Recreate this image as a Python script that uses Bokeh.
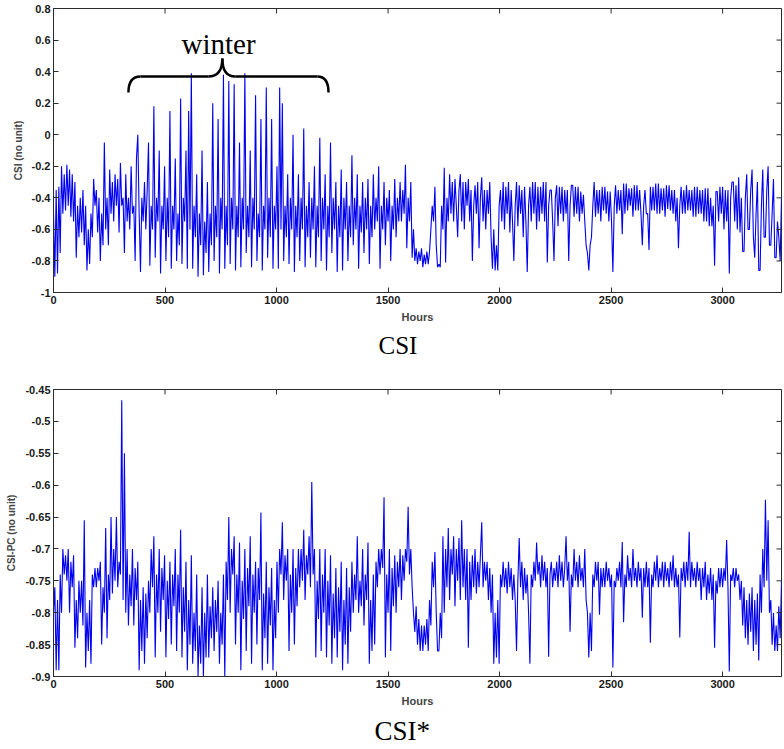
import math
from bokeh.plotting import figure
from bokeh.models import FixedTicker, Range1d, Title
from bokeh.layouts import column
from bokeh.embed import file_html
from bokeh.resources import INLINE
from bokeh.core.properties import value

# ---------------- data (6-hour sampling) ----------------
step_hours = 6

csi = [
    -0.50, -0.90, -0.35, -0.88, -0.33, -0.75, -0.20, -0.50, -0.25, -0.48, -0.19, -0.45, -0.22, -0.52, -0.25, -0.55,
    -0.30, -0.78, -0.45, -0.65, -0.40, -0.62, -0.35, -0.70, -0.45, -0.86, -0.60, -0.82, -0.50, -0.65, -0.28, -0.45,
    -0.35, -0.62, -0.40, -0.80, -0.50, -0.70, -0.05, -0.60, -0.40, -0.70, -0.22, -0.50, -0.30, -0.55, -0.25, -0.45,
    -0.28, -0.62, -0.18, -0.45, -0.40, -0.75, -0.25, -0.55, -0.40, -0.60, -0.20, -0.50, -0.45, -0.80, -0.15, 0.00,
    -0.50, -0.87, -0.40, -0.55, -0.30, -0.60, -0.35, -0.05, -0.83, -0.45, -0.60, 0.18, -0.78, -0.40, -0.55, -0.10,
    -0.88, -0.45, -0.60, -0.20, -0.80, -0.40, -0.65, 0.15, -0.85, -0.45, -0.60, -0.15, -0.80, -0.50, -0.70, 0.23,
    -0.82, -0.40, -0.55, -0.10, -0.85, 0.15, -0.60, 0.39, -0.85, -0.45, -0.65, -0.25, -0.90, -0.50, -0.70, -0.10,
    -0.89, -0.55, -0.75, -0.30, -0.87, -0.50, -0.70, 0.20, -0.80, -0.45, -0.65, 0.10, -0.88, -0.40, -0.60, 0.38,
    -0.85, -0.45, -0.70, 0.34, -0.82, -0.40, -0.60, 0.32, -0.86, -0.45, -0.65, -0.05, -0.84, -0.40, -0.60, 0.39,
    -0.75, -0.45, -0.65, -0.10, -0.84, -0.40, -0.60, 0.25, -0.80, -0.50, -0.65, 0.10, -0.86, -0.45, -0.60, 0.30,
    -0.78, -0.40, -0.65, 0.10, -0.85, -0.45, -0.60, -0.20, -0.85, 0.30, -0.60, 0.20, -0.80, -0.45, -0.65, -0.25,
    -0.82, -0.40, -0.60, 0.00, -0.87, -0.45, -0.65, -0.25, -0.80, -0.40, -0.60, 0.04, -0.84, -0.45, -0.65, -0.30,
    -0.78, -0.40, -0.60, -0.20, -0.84, -0.45, -0.65, -0.02, -0.80, -0.40, -0.60, -0.25, -0.86, -0.45, -0.65, -0.05,
    -0.75, -0.40, -0.60, -0.30, -0.87, -0.45, -0.65, -0.22, -0.86, -0.40, -0.60, -0.30, -0.80, -0.45, -0.65, -0.13,
    -0.70, -0.40, -0.60, -0.25, -0.85, -0.45, -0.62, -0.30, -0.75, -0.40, -0.60, -0.28, -0.82, -0.45, -0.65, -0.25,
    -0.60, -0.40, -0.55, -0.20, -0.85, -0.45, -0.60, -0.30, -0.70, -0.40, -0.55, -0.35, -0.80, -0.45, -0.60, -0.28,
    -0.65, -0.40, -0.55, -0.30, -0.55, -0.35, -0.50, -0.19, -0.72, -0.40, -0.55, -0.30, -0.78, -0.60, -0.80, -0.72,
    -0.82, -0.74, -0.80, -0.72, -0.84, -0.76, -0.82, -0.74, -0.82, -0.74, -0.60, -0.45, -0.55, -0.33, -0.70, -0.84,
    -0.82, -0.84, -0.45, -0.60, -0.21, -0.81, -0.40, -0.55, -0.25, -0.50, -0.30, -0.55, -0.28, -0.45, -0.65, -0.35,
    -0.25, -0.55, -0.30, -0.60, -0.30, -0.45, -0.28, -0.55, -0.35, -0.80, -0.45, -0.32, -0.50, -0.30, -0.72, -0.40,
    -0.27, -0.55, -0.35, -0.60, -0.35, -0.50, -0.30, -0.65, -0.85, -0.60, -0.86, -0.70, -0.86, -0.45, -0.35, -0.55,
    -0.30, -0.60, -0.33, -0.50, -0.30, -0.62, -0.35, -0.55, -0.80, -0.45, -0.30, -0.58, -0.32, -0.50, -0.35, -0.65,
    -0.33, -0.55, -0.87, -0.45, -0.33, -0.55, -0.30, -0.50, -0.30, -0.60, -0.33, -0.55, -0.33, -0.50, -0.30, -0.55,
    -0.30, -0.81, -0.45, -0.35, -0.35, -0.55, -0.80, -0.40, -0.32, -0.58, -0.33, -0.50, -0.33, -0.55, -0.35, -0.50,
    -0.35, -0.80, -0.45, -0.32, -0.32, -0.52, -0.33, -0.50, -0.33, -0.55, -0.36, -0.50, -0.38, -0.55, -0.70, -0.75,
    -0.86, -0.70, -0.65, -0.45, -0.30, -0.52, -0.35, -0.50, -0.35, -0.55, -0.33, -0.48, -0.33, -0.50, -0.36, -0.55,
    -0.36, -0.55, -0.87, -0.45, -0.32, -0.50, -0.35, -0.48, -0.35, -0.63, -0.31, -0.50, -0.31, -0.48, -0.34, -0.45,
    -0.34, -0.52, -0.32, -0.48, -0.32, -0.48, -0.35, -0.50, -0.70, -0.45, -0.35, -0.50, -0.50, -0.73, -0.33, -0.48,
    -0.33, -0.48, -0.31, -0.50, -0.31, -0.50, -0.34, -0.48, -0.34, -0.52, -0.32, -0.47, -0.32, -0.48, -0.35, -0.50,
    -0.35, -0.55, -0.40, -0.72, -0.45, -0.33, -0.50, -0.35, -0.50, -0.32, -0.48, -0.35, -0.48, -0.35, -0.52, -0.33,
    -0.52, -0.33, -0.50, -0.35, -0.50, -0.35, -0.55, -0.34, -0.55, -0.34, -0.58, -0.40, -0.58, -0.45, -0.83, -0.36,
    -0.36, -0.55, -0.33, -0.50, -0.33, -0.60, -0.35, -0.55, -0.35, -0.88, -0.40, -0.30, -0.30, -0.55, -0.32, -0.60,
    -0.27, -0.62, -0.40, -0.74, -0.74, -0.40, -0.25, -0.60, -0.60, -0.35, -0.22, -0.65, -0.78, -0.50, -0.30, -0.86,
    -0.86, -0.45, -0.22, -0.65, -0.65, -0.35, -0.20, -0.70, -0.70, -0.50, -0.28, -0.78, -0.78, -0.55, -0.65, -0.80,
    -0.40,
]

csi_pc = [
    -0.80, -0.76, -0.89, -0.78, -0.89, -0.74, -0.80, -0.70, -0.74, -0.71, -0.75, -0.70, -0.80, -0.72, -0.76, -0.71,
    -0.855, -0.78, -0.84, -0.75, -0.80, -0.75, -0.82, -0.655, -0.886, -0.80, -0.86, -0.78, -0.88, -0.74, -0.76, -0.73,
    -0.76, -0.73, -0.75, -0.72, -0.85, -0.76, -0.80, -0.667, -0.84, -0.74, -0.78, -0.65, -0.77, -0.70, -0.75, -0.65,
    -0.76, -0.72, -0.74, -0.467, -0.78, -0.55, -0.80, -0.70, -0.82, -0.74, -0.79, -0.70, -0.82, -0.73, -0.78, -0.72,
    -0.89, -0.78, -0.86, -0.76, -0.88, -0.77, -0.84, -0.75, -0.80, -0.70, -0.76, -0.68, -0.87, -0.74, -0.80, -0.70,
    -0.83, -0.73, -0.78, -0.71, -0.87, -0.75, -0.81, -0.72, -0.85, -0.74, -0.79, -0.70, -0.86, -0.74, -0.80, -0.67,
    -0.87, -0.76, -0.83, -0.72, -0.89, -0.78, -0.85, -0.71, -0.88, -0.80, -0.86, -0.74, -0.90, -0.82, -0.88, -0.76,
    -0.90, -0.80, -0.87, -0.74, -0.87, -0.79, -0.84, -0.76, -0.86, -0.78, -0.83, -0.75, -0.88, -0.80, -0.85, -0.74,
    -0.90, -0.72, -0.78, -0.65, -0.80, -0.70, -0.74, -0.68, -0.85, -0.74, -0.80, -0.69, -0.89, -0.75, -0.81, -0.70,
    -0.86, -0.73, -0.79, -0.68, -0.88, -0.74, -0.80, -0.72, -0.85, -0.73, -0.78, -0.643, -0.89, -0.77, -0.84, -0.72,
    -0.88, -0.76, -0.82, -0.73, -0.89, -0.78, -0.84, -0.72, -0.80, -0.70, -0.74, -0.658, -0.78, -0.71, -0.75, -0.70,
    -0.86, -0.74, -0.80, -0.70, -0.85, -0.73, -0.79, -0.70, -0.76, -0.70, -0.75, -0.67, -0.78, -0.71, -0.74, -0.68,
    -0.76, -0.595, -0.74, -0.70, -0.87, -0.75, -0.81, -0.70, -0.86, -0.74, -0.80, -0.70, -0.87, -0.75, -0.82, -0.71,
    -0.88, -0.77, -0.84, -0.73, -0.87, -0.76, -0.83, -0.72, -0.89, -0.78, -0.85, -0.73, -0.88, -0.76, -0.83, -0.72,
    -0.80, -0.74, -0.78, -0.68, -0.80, -0.75, -0.79, -0.70, -0.82, -0.74, -0.78, -0.69, -0.88, -0.78, -0.86, -0.74,
    -0.85, -0.72, -0.76, -0.70, -0.74, -0.70, -0.73, -0.619, -0.87, -0.74, -0.80, -0.70, -0.86, -0.73, -0.79, -0.71,
    -0.80, -0.72, -0.76, -0.70, -0.78, -0.71, -0.75, -0.70, -0.72, -0.634, -0.74, -0.70, -0.76, -0.80, -0.83, -0.79,
    -0.85, -0.81, -0.86, -0.82, -0.86, -0.82, -0.85, -0.81, -0.86, -0.78, -0.82, -0.72, -0.76, -0.705, -0.80, -0.86,
    -0.86, -0.80, -0.84, -0.68, -0.80, -0.70, -0.76, -0.667, -0.78, -0.70, -0.74, -0.68, -0.79, -0.70, -0.75, -0.683,
    -0.78, -0.655, -0.76, -0.70, -0.78, -0.70, -0.855, -0.72, -0.78, -0.71, -0.76, -0.70, -0.77, -0.72, -0.76, -0.71,
    -0.658, -0.76, -0.72, -0.75, -0.72, -0.78, -0.73, -0.80, -0.74, -0.88, -0.80, -0.87, -0.78, -0.88, -0.74, -0.76,
    -0.72, -0.76, -0.73, -0.77, -0.72, -0.76, -0.73, -0.78, -0.74, -0.78, -0.86, -0.75, -0.683, -0.76, -0.72, -0.78,
    -0.73, -0.77, -0.74, -0.80, -0.88, -0.74, -0.76, -0.72, -0.75, -0.69, -0.74, -0.72, -0.76, -0.71, -0.75, -0.72,
    -0.76, -0.73, -0.869, -0.74, -0.72, -0.76, -0.73, -0.75, -0.72, -0.76, -0.71, -0.75, -0.72, -0.76, -0.73, -0.68,
    -0.75, -0.72, -0.83, -0.74, -0.76, -0.70, -0.75, -0.72, -0.76, -0.71, -0.75, -0.73, -0.76, -0.70, -0.78, -0.80,
    -0.87, -0.80, -0.86, -0.74, -0.76, -0.72, -0.75, -0.72, -0.803, -0.73, -0.76, -0.73, -0.76, -0.72, -0.75, -0.73,
    -0.76, -0.74, -0.886, -0.75, -0.76, -0.73, -0.75, -0.72, -0.76, -0.689, -0.815, -0.74, -0.76, -0.71, -0.75, -0.73,
    -0.76, -0.70, -0.75, -0.73, -0.76, -0.72, -0.75, -0.73, -0.808, -0.73, -0.76, -0.72, -0.76, -0.73, -0.847, -0.74,
    -0.76, -0.72, -0.75, -0.71, -0.76, -0.73, -0.75, -0.72, -0.76, -0.72, -0.75, -0.73, -0.76, -0.72, -0.75, -0.71,
    -0.76, -0.73, -0.76, -0.74, -0.839, -0.73, -0.75, -0.72, -0.76, -0.72, -0.75, -0.673, -0.76, -0.72, -0.75, -0.73,
    -0.76, -0.72, -0.75, -0.73, -0.78, -0.73, -0.76, -0.72, -0.78, -0.74, -0.77, -0.73, -0.78, -0.74, -0.855, -0.75,
    -0.77, -0.73, -0.76, -0.73, -0.76, -0.73, -0.75, -0.686, -0.76, -0.892, -0.74, -0.75, -0.73, -0.76, -0.73, -0.75,
    -0.74, -0.78, -0.75, -0.82, -0.76, -0.84, -0.78, -0.85, -0.77, -0.83, -0.76, -0.86, -0.78, -0.85, -0.77, -0.875,
    -0.74, -0.80, -0.70, -0.76, -0.623, -0.75, -0.655, -0.80, -0.78, -0.85, -0.80, -0.86, -0.82, -0.86, -0.79, -0.84,
    -0.75,
]

hours_csi = [i * step_hours for i in range(len(csi))]
hours_pc = [i * step_hours for i in range(len(csi_pc))]

x_max = 3264
x_ticks = [0, 500, 1000, 1500, 2000, 2500, 3000]
x_tick_labels = ["0", "500", "1000", "1500", "2000", "2500", "3000"]
csi_ticks = [-1, -0.8, -0.6, -0.4, -0.2, 0, 0.2, 0.4, 0.6, 0.8]
csi_tick_labels = ["-1", "-0.8", "-0.6", "-0.4", "-0.2", "0", "0.2", "0.4", "0.6", "0.8"]
pc_ticks = [-0.9, -0.85, -0.8, -0.75, -0.7, -0.65, -0.6, -0.55, -0.5, -0.45]
pc_tick_labels = ["-0.9", "-0.85", "-0.8", "-0.75", "-0.7", "-0.65", "-0.6", "-0.55", "-0.5", "-0.45"]

# "winter" annotation (brace in data units: hours, CSI value)
winter_label = "winter"
winter_x, winter_y = 740, 0.575
brace_x0 = [336, 390, 694, 757, 815, 1183]
brace_y0 = [0.268, 0.369, 0.369, 0.483, 0.369, 0.369]
brace_x1 = [390, 694, 757, 815, 1183, 1233]
brace_y1 = [0.369, 0.369, 0.483, 0.369, 0.369, 0.268]
brace_cx = [336, 542, 757, 757, 999, 1233]
brace_cy = [0.369, 0.369, 0.369, 0.369, 0.369, 0.369]

LINE_COLOR = "#0000f0"
AXIS_COLOR = "#2b2b2b"
SANS = "Liberation Sans"
SERIF = "Liberation Serif"


def style_axis(ax):
    ax.axis_line_color = AXIS_COLOR
    ax.major_tick_line_color = AXIS_COLOR
    ax.major_tick_in = 5
    ax.major_tick_out = 0
    ax.minor_tick_line_color = None
    ax.major_label_text_font = SANS
    ax.major_label_text_font_style = "bold"
    ax.major_label_text_font_size = "11px"
    ax.major_label_text_color = "#1a1a1a"
    ax.major_label_standoff = 3


def make_panel(xs, series, yticks, ylabels, ylo, yhi, ylabel, caption, caption_offset,
               caption_size, height, b_top, b_bottom):
    p = figure(width=784, height=height, output_backend="svg", toolbar_location=None,
               x_range=Range1d(0, x_max), y_range=Range1d(ylo, yhi), title=None,
               min_border_left=53, min_border_right=3,
               min_border_top=b_top, min_border_bottom=b_bottom)
    p.xgrid.visible = False
    p.ygrid.visible = False
    p.outline_line_color = AXIS_COLOR
    p.background_fill_color = "white"
    p.border_fill_color = "white"

    p.line(xs, series, line_color=LINE_COLOR, line_width=1.1)

    xa = p.xaxis[0]
    xa.ticker = FixedTicker(ticks=x_ticks)
    xa.major_label_overrides = dict(zip(x_ticks, x_tick_labels))
    style_axis(xa)
    xa.axis_label = "Hours"
    xa.axis_label_text_font = SANS
    xa.axis_label_text_font_style = "bold"
    xa.axis_label_text_font_size = "11px"
    xa.axis_label_standoff = 4

    ya = p.yaxis[0]
    ya.ticker = FixedTicker(ticks=yticks)
    ya.major_label_overrides = dict(zip(yticks, ylabels))
    style_axis(ya)
    ya.axis_label = ylabel
    ya.axis_label_text_font = SANS
    ya.axis_label_text_font_style = "bold"
    ya.axis_label_text_font_size = "10px"
    ya.axis_label_standoff = 5

    # inward ticks on the top and right edges of the box (no labels)
    p.ray(x=x_ticks[1:], y=[yhi] * (len(x_ticks) - 1), length=5, length_units="screen",
          angle=-math.pi / 2, line_color=AXIS_COLOR, line_width=1)
    p.ray(x=[x_max] * len(yticks), y=yticks, length=5, length_units="screen",
          angle=math.pi, line_color=AXIS_COLOR, line_width=1)

    t = Title(text=caption, align="left", offset=caption_offset,
              text_font=SERIF, text_font_size=caption_size,
              text_font_style="normal", text_color="black", standoff=8)
    p.add_layout(t, "below")
    return p


p1 = make_panel(hours_csi, csi, csi_ticks, csi_tick_labels, -1, 0.8, "CSI (no unit)", "CSI", 325,
                "25px", 365, 8, 73)
p1.quadratic(x0=brace_x0, y0=brace_y0, x1=brace_x1, y1=brace_y1, cx=brace_cx, cy=brace_cy,
             line_color="black", line_width=2.5)
p1.text(x=[winter_x], y=[winter_y], text=[winter_label], text_font=value(SERIF),
        text_font_size="29px", text_align="center", text_baseline="alphabetic",
        text_color="black")

p2 = make_panel(hours_pc, csi_pc, pc_ticks, pc_tick_labels, -0.9, -0.45, "CSI-PC (no unit)", "CSI*",
                321, "27px", 384, 24, 72)

layout = column(p1, p2, spacing=0)
open("out.html", "w").write(file_html(layout, INLINE))
